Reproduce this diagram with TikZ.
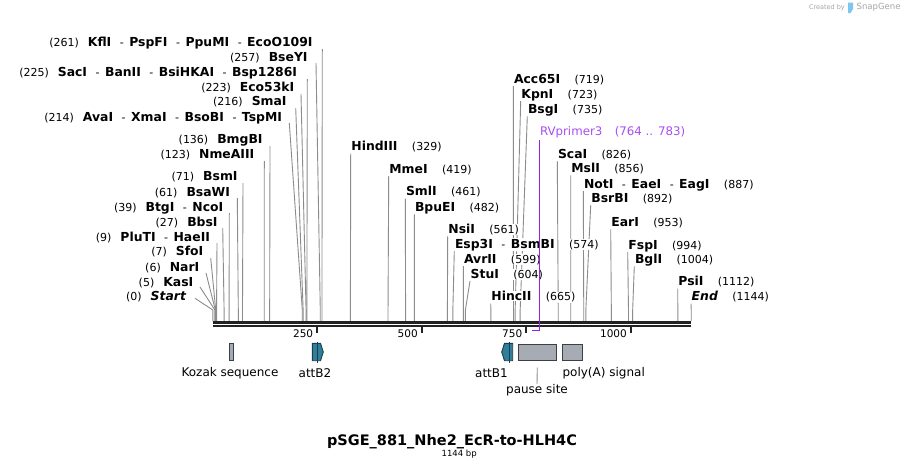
\documentclass[tikz,border=0pt]{standalone}
\usepackage{fontspec}
\setmainfont{DejaVu Sans}
\pgfdeclarelayer{bg}
\pgfsetlayers{bg,main}
\definecolor{cutgray}{RGB}{140,140,140}
\definecolor{mapdark}{RGB}{34,34,34}
\definecolor{tealfeat}{RGB}{47,127,155}
\definecolor{tealedge}{RGB}{30,60,75}
\definecolor{featgray}{RGB}{167,171,179}
\definecolor{featedge}{RGB}{60,64,70}
\definecolor{primertext}{RGB}{168,78,240}
\definecolor{primerline}{RGB}{140,35,230}
\definecolor{wmgray}{RGB}{165,165,165}
\definecolor{wmblue}{RGB}{125,198,240}
\newcommand\namef{\fontsize{12.4}{14}\selectfont\bfseries}
\newcommand\numf{\fontsize{11}{13}\selectfont\mdseries}
\newcommand\dsep{{\fontsize{11}{13}\selectfont\mdseries\hspace{8.5pt}-\hspace{5.5pt}}}
\newcommand\mpx[1]{212.8+0.4182*#1}
\tikzset{
  cut/.style={draw=cutgray, line width=0.9pt},
  llab/.style={anchor=base east, inner sep=0.5pt},
  rlab/.style={anchor=base west, inner sep=0.5pt, fill=white},
  rnum/.style={anchor=base west, inner sep=0.5pt, fill=white, font=\numf},
  plab/.style={anchor=base west, inner sep=0.5pt, fill=white, text=primertext, font=\fontsize{11.8}{13}\selectfont},
  featlab/.style={inner sep=0pt, font=\fontsize{12}{14}\selectfont},
  ticklab/.style={anchor=east, inner sep=0pt, font=\fontsize{10.5}{12}\selectfont},
  greybox/.style={draw=featedge, fill=featgray, line width=0.9pt},
  tealarrow/.style={draw=tealedge, fill=tealfeat, line width=0.9pt}
}
\newcommand\LL[8]{%
  \begin{pgfonlayer}{bg}\draw[cut] (#6,#7) -- ({\mpx{#8}},310) -- ({\mpx{#8}},321);\end{pgfonlayer}
  \node[llab] (#1) at (#2,#3+4) {{\numf(#4)}\hspace{9pt}{\namef #5}};}
\newcommand\RL[8]{%
  \begin{pgfonlayer}{bg}\draw[cut] (#6,#7) -- ({\mpx{#8}},310) -- ({\mpx{#8}},321);\end{pgfonlayer}
  \node[rlab] (#1) at (#2,#3+4) {\namef #4};
  \node[rnum] (#1n) at ([xshift=13pt]#1.base east) {(#5)};}
\begin{document}
\begin{tikzpicture}[x=1pt,y=-1pt]
\useasboundingbox (0,0) rectangle (905,471);
\begin{pgfonlayer}{bg}\fill[white] (0,0) rectangle (905,471);\end{pgfonlayer}
% watermark
\node[anchor=east, inner sep=0pt, text=wmgray, font=\fontsize{6.5}{8}\selectfont] (wm1) at (845,7.5) {Created by};
\fill[wmblue] (848,2.5) -- (853,2.5) -- (853,9) -- (850.5,13) -- (848,13) -- cycle;
\node[anchor=west, inner sep=0pt, text=wmgray, font=\fontsize{8.5}{10}\selectfont] (wm2) at (856.5,7.5) {SnapGene};
% map line
\coordinate (mapL) at (212.8,322);
\coordinate (mapR) at ({\mpx{1144}},322);
\draw[mapdark, line width=3pt] (mapL) -- (mapR);
\draw[mapdark, line width=2pt] ([yshift=-4.3pt]mapL) -- ([yshift=-4.3pt]mapR);
\foreach \t in {250,500,750,1000}{
  \draw[mapdark, line width=2pt] ({\mpx{\t}},325) -- ({\mpx{\t}},333);
  \node[ticklab] (tick\t) at ({\mpx{\t}-4},334) {\t};
}
% primer label
\node[plab] (rv) at (539.3,135.7) {RVprimer3};
\node[plab] (rvn) at ([xshift=11pt]rv.base east) {(764 .. 783)};
% left labels
\LL{kfl}{313.3}{42.7}{261}{KflI\dsep PspFI\dsep PpuMI\dsep EcoO109I}{322.3}{49}{261}
\LL{bse}{308.3}{57.7}{257}{BseYI}{316}{63}{257}
\LL{sac}{297.7}{72.3}{225}{SacI\dsep BanII\dsep BsiHKAI\dsep Bsp1286I}{307.3}{79}{225}
\LL{eco}{295}{87.3}{223}{Eco53kI}{301}{94}{223}
\LL{sma}{287.3}{101.7}{216}{SmaI}{295.7}{108}{216}
\LL{ava}{282.7}{117.3}{214}{AvaI\dsep XmaI\dsep BsoBI\dsep TspMI}{289.3}{123}{214}
\LL{bmg}{263.3}{139}{136}{BmgBI}{270}{146}{136}
\LL{nme}{255}{154.3}{123}{NmeAIII}{264.3}{161}{123}
\LL{bsm}{238.3}{176.7}{71}{BsmI}{243}{183}{71}
\LL{bsa}{230.7}{192.3}{61}{BsaWI}{237.3}{198}{61}
\LL{btg}{224}{207.3}{39}{BtgI\dsep NcoI}{229.3}{213}{39}
\LL{bbs}{218.3}{222.3}{27}{BbsI}{222.7}{228}{27}
\LL{plu}{210.7}{237.3}{9}{PluTI\dsep HaeII}{217}{243}{9}
\LL{sfo}{204}{251.7}{7}{SfoI}{210.7}{258}{7}
\LL{nar}{200}{267.3}{6}{NarI}{206}{273}{6}
\LL{kas}{194}{282.3}{5}{KasI}{200}{287}{5}
\LL{start}{186.7}{296.7}{0}{\itshape Start}{195}{298.3}{0}
% right labels
\RL{hind}{350.7}{146.7}{HindIII}{329}{350.7}{153.7}{329}
\RL{mme}{388.7}{169}{MmeI}{419}{388.7}{176}{419}
\RL{sml}{405.3}{191.7}{SmlI}{461}{405.3}{198.7}{461}
\RL{bpu}{414.3}{207.3}{BpuEI}{482}{414.3}{214.3}{482}
\RL{nsi}{447.7}{229}{NsiI}{561}{447.7}{236}{561}
\RL{esp}{454.3}{244}{Esp3I\dsep BsmBI}{574}{454.3}{251}{574}
\RL{avr}{463.3}{259}{AvrII}{599}{463.3}{266}{599}
\RL{stu}{470}{274}{StuI}{604}{470}{281}{604}
\RL{hinc}{490.7}{296.7}{HincII}{665}{490.7}{303.7}{665}
\RL{acc}{513.3}{79}{Acc65I}{719}{513.3}{86}{719}
\RL{kpn}{520.7}{94}{KpnI}{723}{520.7}{101}{723}
\RL{bsg}{527.3}{109.3}{BsgI}{735}{527.3}{116.3}{735}
\RL{sca}{557.3}{154.3}{ScaI}{826}{557.3}{161.3}{826}
\RL{msl}{570.7}{168.3}{MslI}{856}{570.7}{175.3}{856}
\RL{noti}{583.3}{184}{NotI\dsep EaeI\dsep EagI}{887}{583.3}{191}{887}
\RL{bsr}{590.7}{198.3}{BsrBI}{892}{590.7}{205.3}{892}
\RL{ear}{610.7}{222.3}{EarI}{953}{610.7}{229.3}{953}
\RL{fsp}{627.7}{245}{FspI}{994}{627.7}{252}{994}
\RL{bgl}{634.3}{259.3}{BglI}{1004}{634.3}{266.3}{1004}
\RL{psi}{677.7}{281.7}{PsiI}{1112}{677.7}{288.7}{1112}
\RL{endl}{691}{296.7}{\itshape End}{1144}{691}{303.7}{1144}
% primer line (on top)
\coordinate (rvtop) at (539.5,139.5);
\coordinate (rvbot) at (539.5,330.5);
\coordinate (rvend) at (532.3,330.5);
\draw[primerline, line width=1pt] (rvtop) -- (rvbot) -- (rvend);
% features
\draw[greybox] (229.3,343.3) rectangle (233.7,360.7);
\node[featlab] (kozak) at (230,373.5) {Kozak sequence};
\draw[tealarrow] (312.3,343.3) -- (320.5,343.3) -- (323.3,352) -- (320.5,360.7) -- (312.3,360.7) -- cycle;
\draw[tealedge, line width=1pt] (317,341.5) -- (317,363.3);
\node[featlab] (attb2) at (315,373.5) {attB2};
\draw[tealarrow] (501.7,352) -- (504.5,343.3) -- (512.7,343.3) -- (512.7,360.7) -- (504.5,360.7) -- cycle;
\draw[tealedge, line width=1pt] (509.3,341.5) -- (509.3,363.3);
\node[featlab] (attb1) at (491.5,373.5) {attB1};
\draw[greybox] (518.3,344) rectangle (556.3,360);
\coordinate (pauseTop) at (537.3,367.7);
\node[featlab, anchor=north] (pause) at (537,384) {pause site};
\draw[cutgray, line width=0.9pt] (pauseTop) -- (pause.north);
\draw[greybox] (562.3,344) rectangle (582.3,360);
\node[featlab] (polya) at (603.7,373.5) {poly(A) signal};
% title
\node[inner sep=0pt, font=\fontsize{14.5}{17}\selectfont\bfseries] (title) at (452,441.3) {pSGE\_881\_Nhe2\_EcR-to-HLH4C};
\node[inner sep=0pt, font=\fontsize{8.5}{10}\selectfont] (size) at (459.2,454) {1144 bp};
\end{tikzpicture}
\end{document}
